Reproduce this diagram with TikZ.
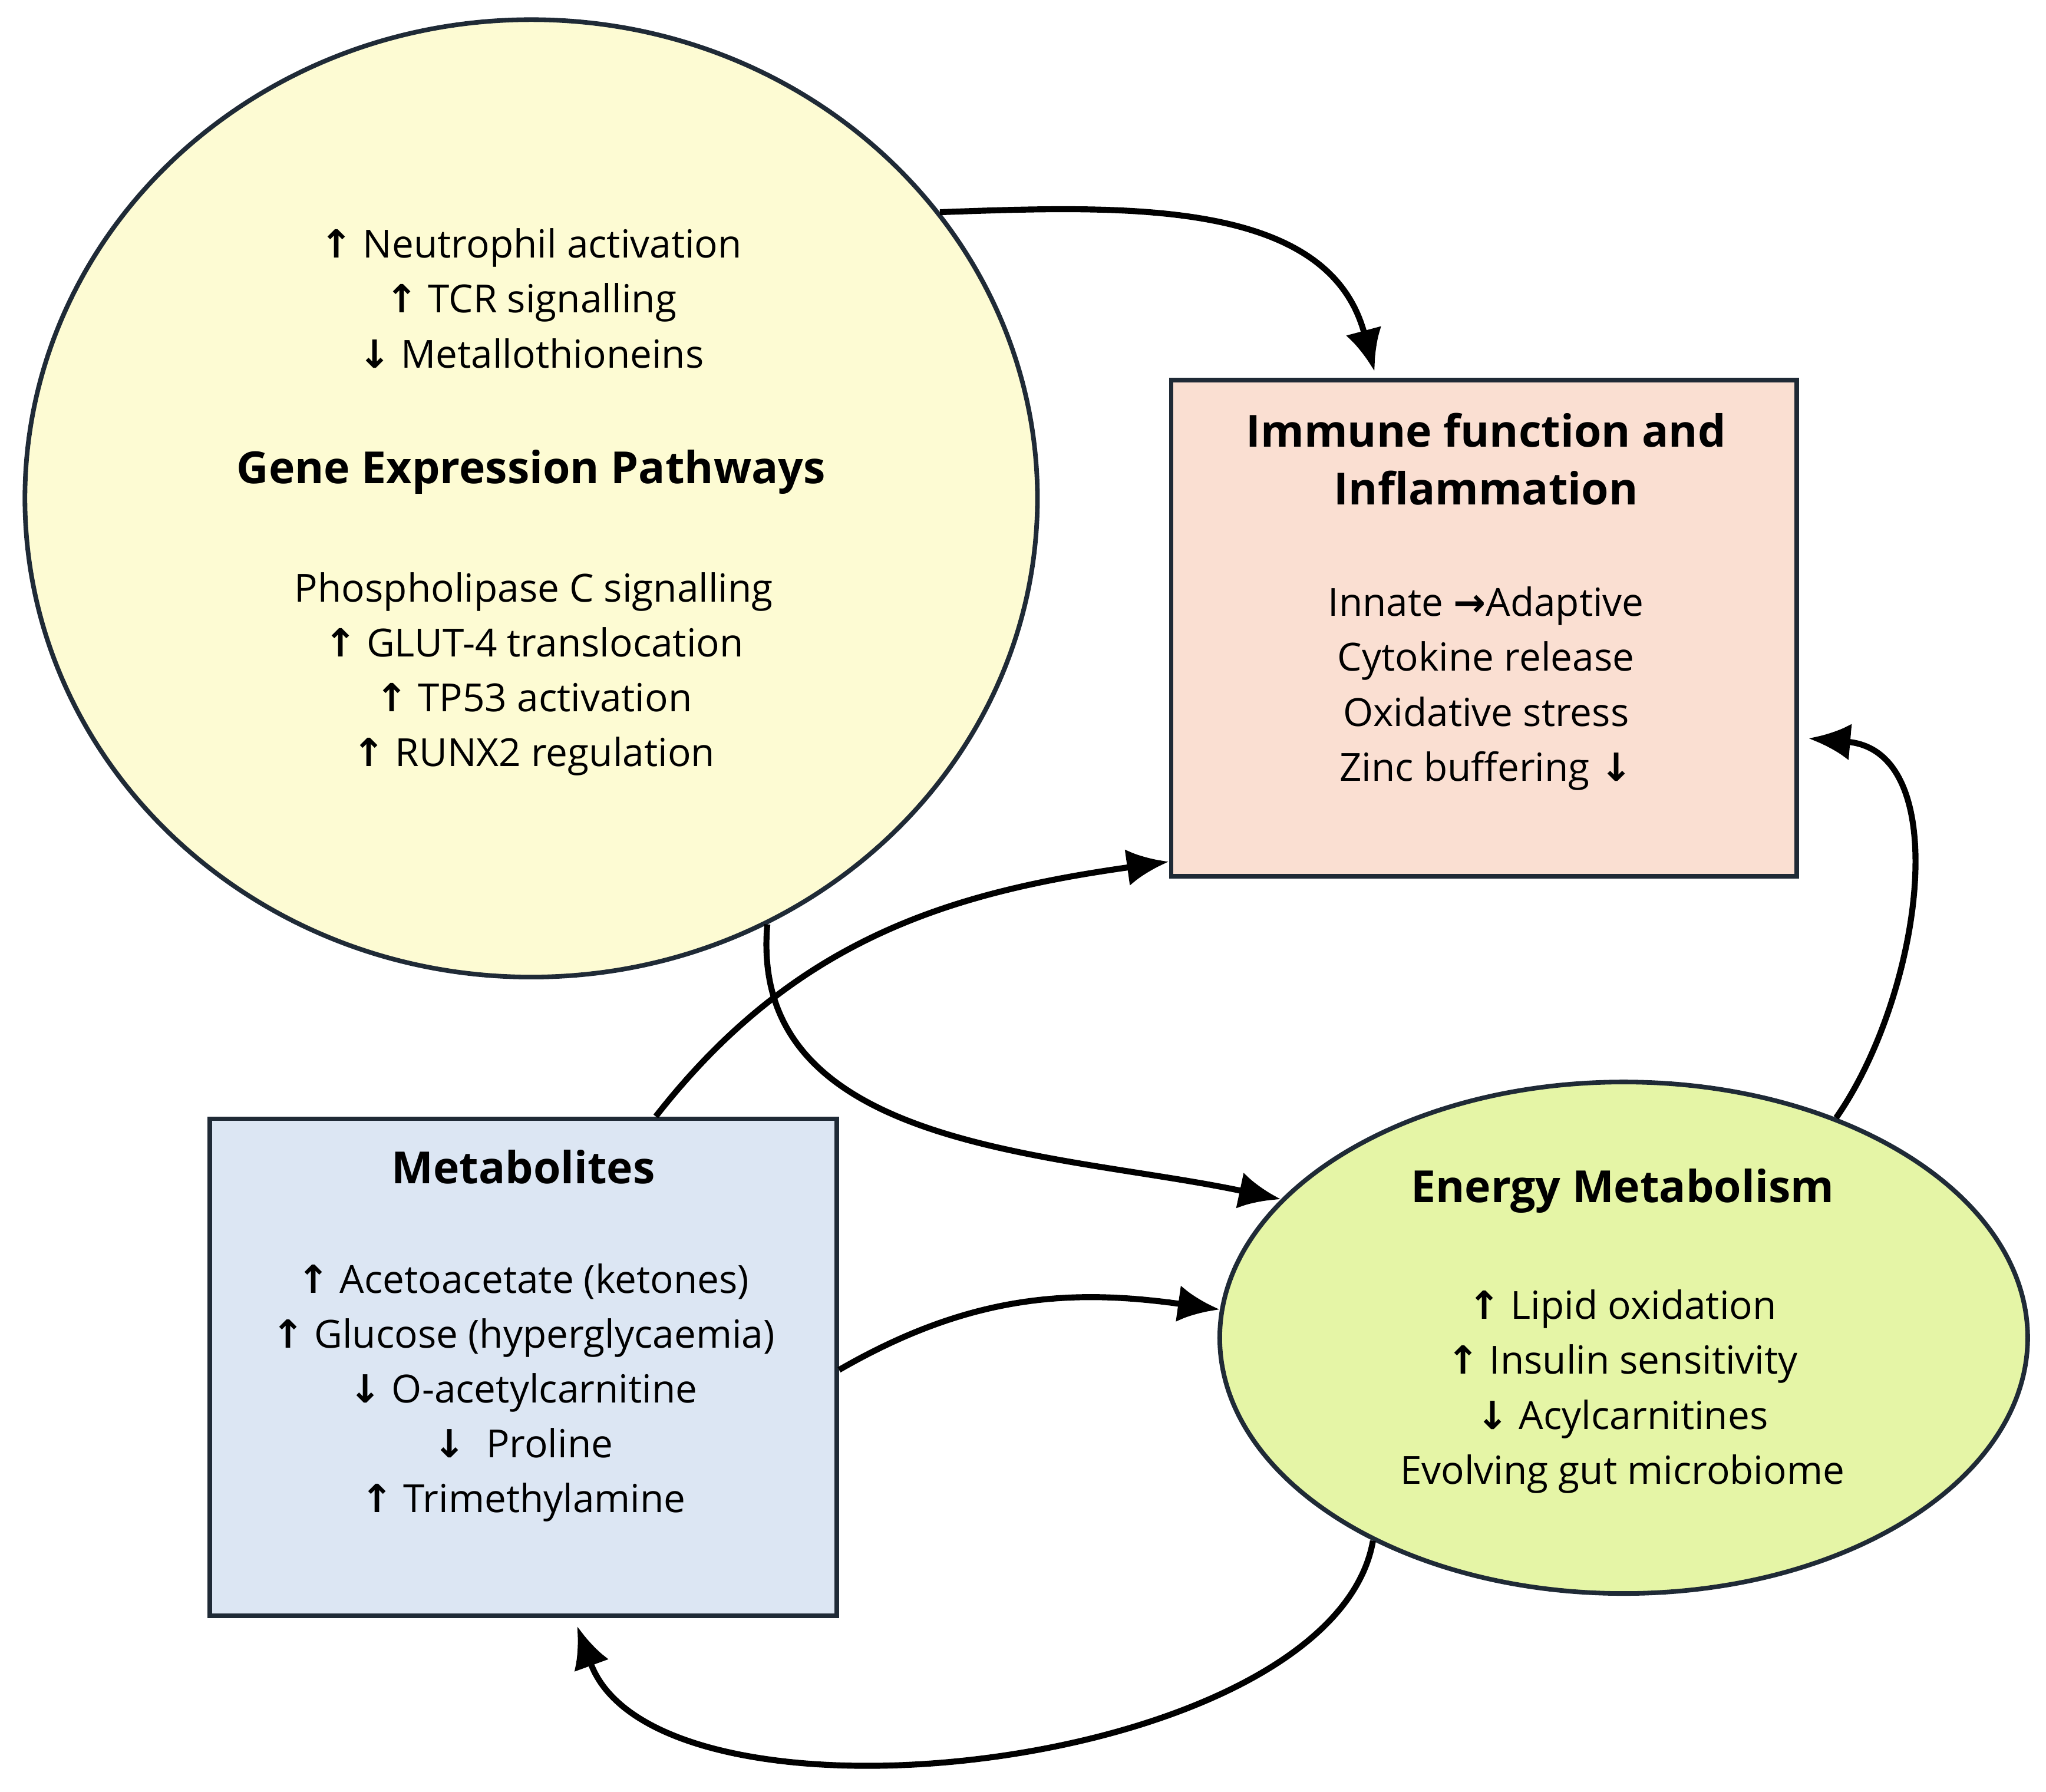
\documentclass[tikz,border=0pt]{standalone}
\usepackage{fontspec}
\setmainfont{Open Sans}
\newfontfamily\arrfont{DejaVu Sans}
\usetikzlibrary{shapes.geometric, arrows.meta, calc}
\newcommand{\arup}{{\arrfont\bfseries ↑}}
\newcommand{\ardn}{{\arrfont\bfseries ↓}}
\newcommand{\arrt}{{\arrfont\bfseries →}}
\definecolor{genefill}{HTML}{FDFBD3}
\definecolor{immfill}{HTML}{FADFD2}
\definecolor{metfill}{HTML}{DCE6F3}
\definecolor{enfill}{HTML}{E5F5A6}
\definecolor{edge}{HTML}{1F2A36}
\tikzset{
    my-blob/.style={draw=edge, line width=1pt, inner sep=0pt},
    my-title/.style={font=\fontsize{9.6}{12.5}\selectfont\bfseries, align=center},
    my-body/.style={font=\fontsize{8.4}{11.9}\selectfont, align=center},
    my-link/.style={line width=1.3pt, -{Latex[length=0.32cm, width=0.28cm]}},
}
\begin{document}
\begin{tikzpicture}
    \useasboundingbox (0,0) rectangle (15.6,13.66);

    % SHAPES
    \node[my-blob, ellipse, fill=genefill, minimum width=7.72cm, minimum height=7.30cm] (gene) at (4.05, 9.86) {};
    \node[my-blob, rectangle, fill=immfill, minimum width=4.77cm, minimum height=3.78cm] (imm) at (11.315, 8.87) {};
    \node[my-blob, rectangle, fill=metfill, minimum width=4.78cm, minimum height=3.79cm] (met) at (3.99, 3.235) {};
    \node[my-blob, ellipse, fill=enfill, minimum width=6.16cm, minimum height=3.90cm] (en) at (12.38, 3.46) {};

    % TEXTS
    \node[my-body] (geneA) at (4.05, 11.385) {\arup\ Neutrophil activation\\ \arup\ TCR signalling\\ \ardn\ Metallothioneins};
    \node[my-title] (geneT) at (4.05, 10.06) {Gene Expression Pathways};
    \node[my-body] (geneB) at (4.07, 8.52) {Phospholipase C signalling\\ \arup\ GLUT-4 translocation\\ \arup\ TP53 activation\\ \arup\ RUNX2 regulation};

    \node[my-title] (immT) at (11.33, 10.16) {Immune function and\\ Inflammation};
    \node[my-body] (immB) at (11.33, 8.41) {Innate \arrt Adaptive\\ Cytokine release\\ Oxidative stress\\ Zinc buffering \ardn};

    \node[my-title] (metT) at (3.99, 4.76) {Metabolites};
    \node[my-body] (metB) at (3.99, 3.04) {\arup\ Acetoacetate (ketones)\\ \arup\ Glucose (hyperglycaemia)\\ \ardn\ O-acetylcarnitine\\ \ardn\ \ Proline\\ \arup\ Trimethylamine};

    \node[my-title] (enT) at (12.37, 4.58) {Energy Metabolism};
    \node[my-body] (enB) at (12.37, 3.05) {\arup\ Lipid oxidation\\ \arup\ Insulin sensitivity\\ \ardn\ Acylcarnitines\\ Evolving gut microbiome};

    % CONNECTOR END POINTS
    \coordinate (immtop)   at ($(imm.north) + (-0.835, 0.05)$);
    \coordinate (immright) at ($(imm.east)  + (0.07, -0.84)$);
    \coordinate (immleft)  at ($(imm.west)  + (0, -1.78)$);
    \coordinate (metbot)   at ($(met.south) + (0.41, -0.06)$);
    \coordinate (mettop)   at ($(met.north) + (1.01, 0)$);
    \coordinate (metright) at ($(met.east)  + (0, -0.02)$);

    % CONNECTORS
    \draw[my-link] (gene.35)  to[out=2,  in=105] (immtop);
    \draw[my-link] (en.46)    to[out=55, in=-5]  (immright);
    \draw[my-link] (mettop)   to[out=52, in=188] (immleft);
    \draw[my-link] (gene.-61) to[out=-95, in=168] (en.158);
    \draw[my-link] (metright) to[out=30, in=172] (en.176);
    \draw[my-link] (en.219)   to[out=-100, in=-70, looseness=0.75] (metbot);
\end{tikzpicture}
\end{document}
